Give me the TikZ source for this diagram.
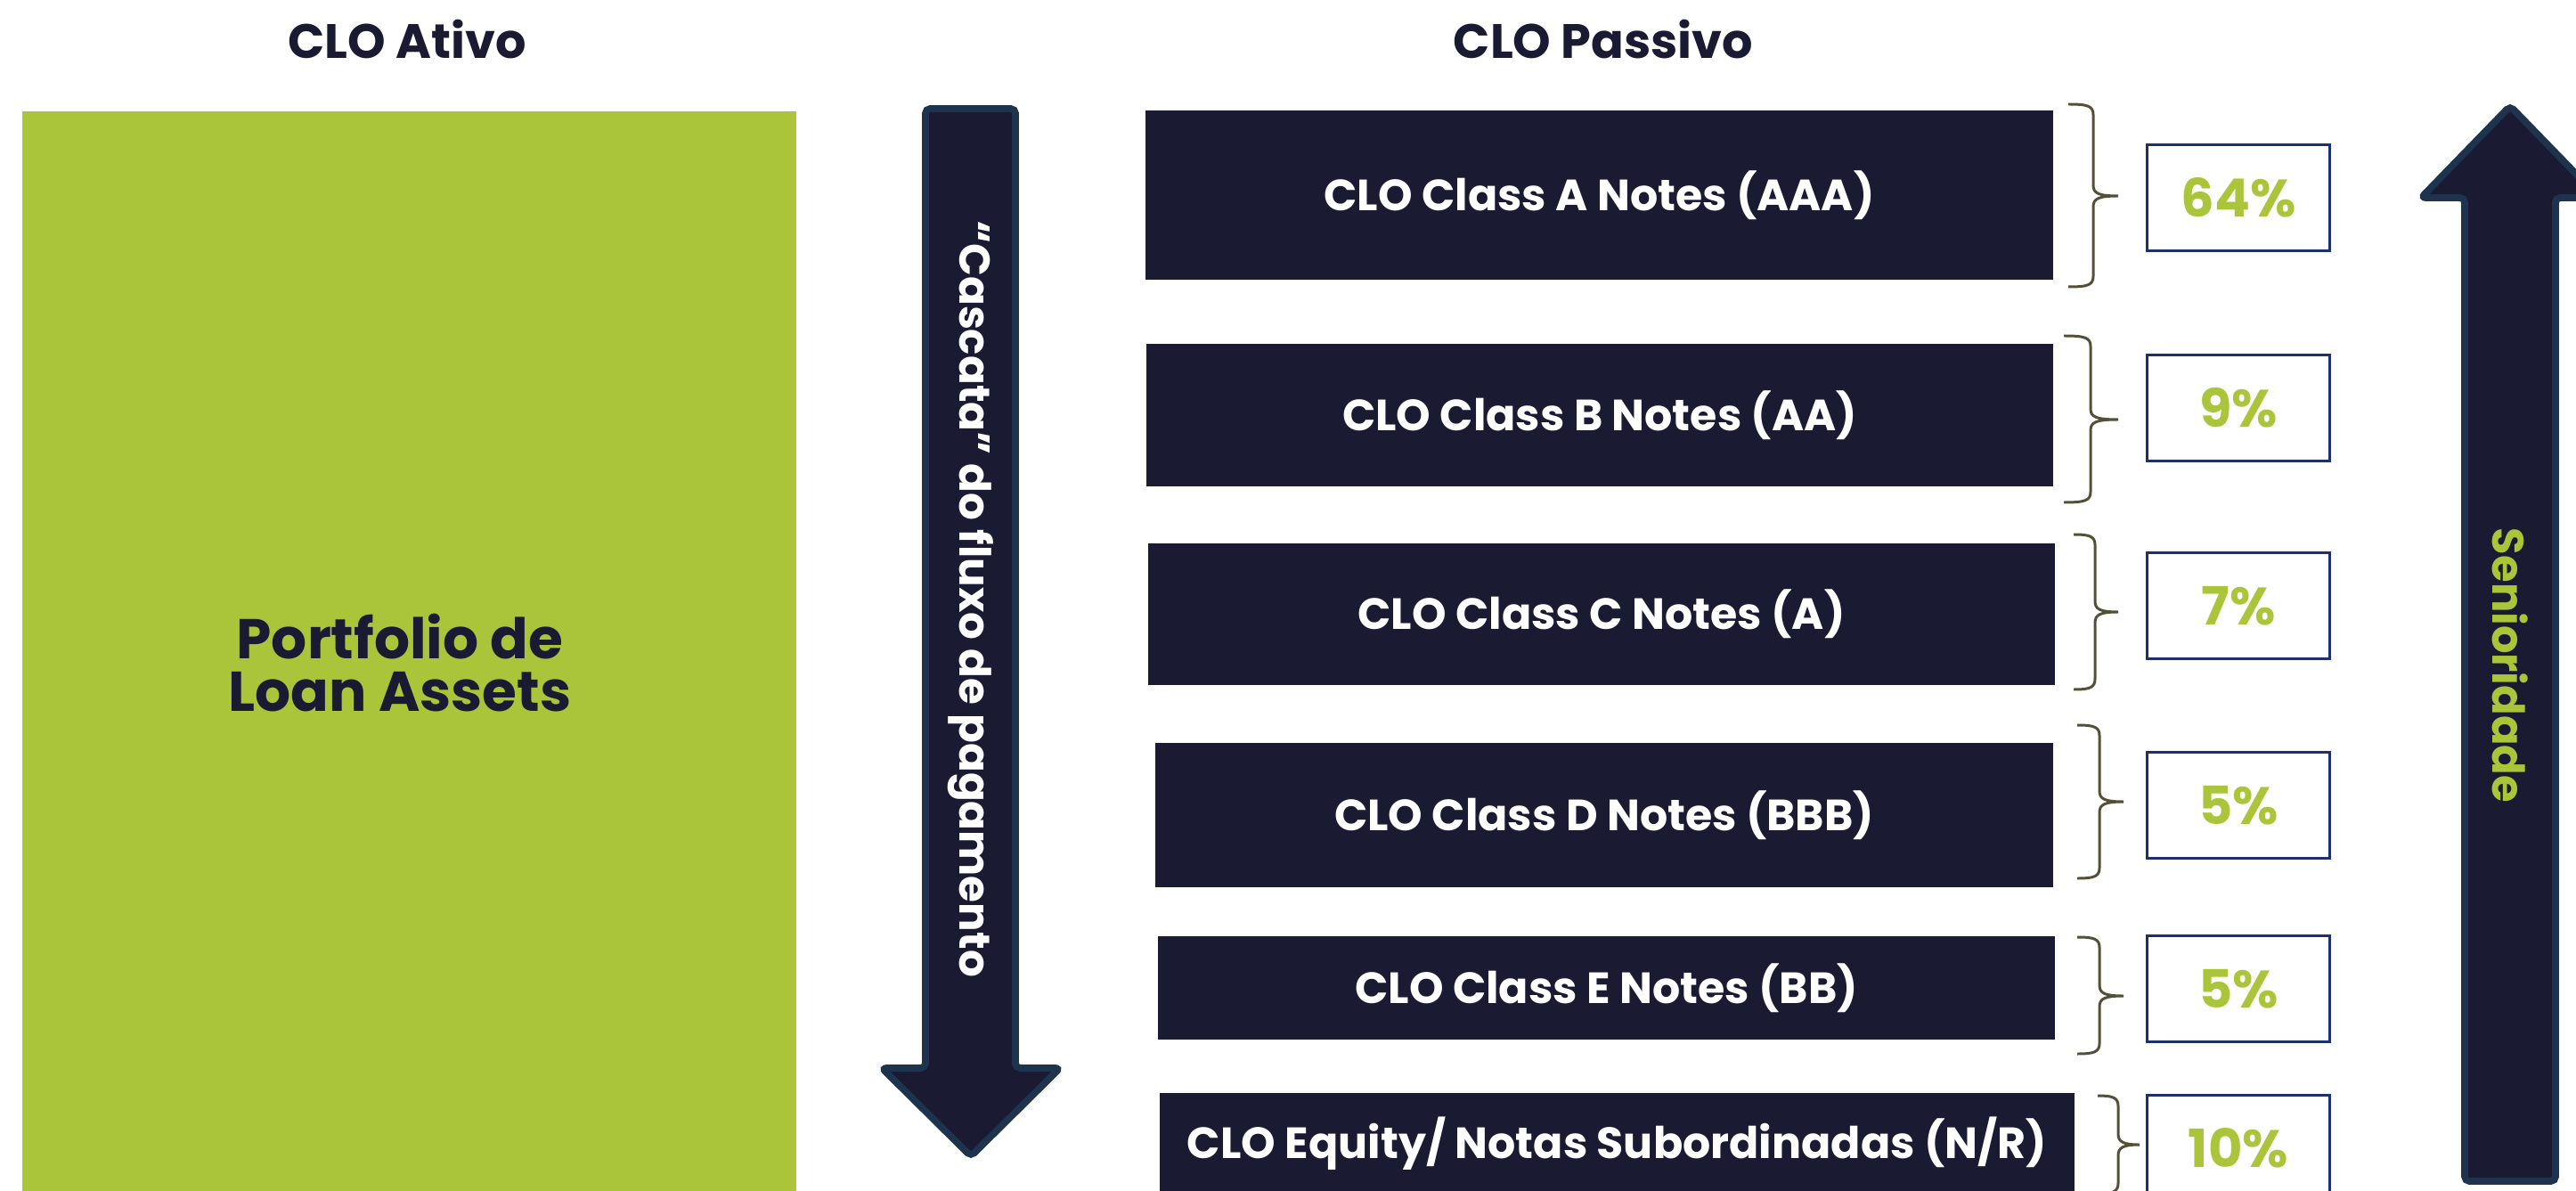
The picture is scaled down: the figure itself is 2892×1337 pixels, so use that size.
\documentclass[tikz,border=0pt]{standalone}
\usepackage{fontspec}
\setmainfont{Poppins}
\definecolor{navy}{RGB}{27,26,51}
\definecolor{cgreen}{RGB}{170,197,58}
\definecolor{pctblue}{RGB}{28,48,110}
\definecolor{braceolive}{RGB}{84,80,56}
\definecolor{arrowedge}{RGB}{30,52,78}
\newcommand\clobrace[6]{% top, bottom, left x, vertical x, tip x, tip y
  \draw[bracestyle] (#3,#1) .. controls (#4-6,#1) and (#4,#1+2) .. (#4,#1+12)
    -- (#4,#6-12) .. controls (#4,#6-3) and (#4+6,#6) .. (#5,#6)
    .. controls (#4+6,#6) and (#4,#6+3) .. (#4,#6+12)
    -- (#4,#2-12) .. controls (#4,#2-2) and (#4-6,#2) .. (#3,#2);}
\begin{document}
\begin{tikzpicture}[x=0.01cm,y=-0.01cm,
  navybox/.style={fill=navy, draw=none, text=white, inner sep=0pt,
    font=\fontsize{13.95pt}{17pt}\selectfont\bfseries},
  pctbox/.style={draw=pctblue, line width=0.9pt, fill=white, text=cgreen, inner sep=0pt,
    minimum width=2.05cm, minimum height=1.19cm,
    font=\fontsize{16.8pt}{20pt}\selectfont\bfseries},
  bracestyle/.style={draw=braceolive, line width=0.85pt},
  bigarrow/.style={fill=navy, draw=arrowedge, line width=2.2pt, rounded corners=1.5pt},
  titletext/.style={text=navy, font=\fontsize{15.4pt}{18pt}\selectfont\bfseries}
]
\useasboundingbox (0,0) rectangle (2892,1337);
\fill[white] (0,0) rectangle (2892,1337);
\clip (0,0) rectangle (2892,1337);

% titles
\node[titletext] (tativo) at (457,44) {CLO Ativo};
\node[titletext] (tpassivo) at (1800,44) {CLO Passivo};

% asset block
\node[fill=cgreen, anchor=north west, minimum width=8.69cm, minimum height=12.3cm, inner sep=0pt] (ativo) at (24,124) {};
\node[text=navy, align=center, font=\fontsize{17.9pt}{16.8pt}\selectfont\bfseries] (portfolio) at (449,744) {Portfolio de\\Loan Assets};

% down arrow
\draw[bigarrow] (1039,122) -- (1140,122) -- (1140,1199) -- (1190,1199) -- (1090,1298)
  -- (990,1199) -- (1039,1199) -- cycle;
\node[rotate=-90, text=white, font=\fontsize{13.75pt}{17pt}\selectfont\bfseries] (cascata) at (1090,672) {“Cascata” do fluxo de pagamento};

% up arrow
\draw[bigarrow] (2767,1326) -- (2767,222) -- (2718,222) -- (2818,119) -- (2918,222)
  -- (2869,222) -- (2869,1326) -- cycle;
\node[rotate=-90, text=cgreen, font=\fontsize{14.1pt}{17pt}\selectfont\bfseries] (senioridade) at (2818,747) {Senioridade};

% liability tranches
\node[navybox, minimum width=10.19cm, minimum height=1.90cm] (classA) at (1795.5,219) {CLO Class A Notes (AAA)};
\node[navybox, minimum width=10.18cm, minimum height=1.60cm] (classB) at (1796,466) {CLO Class B Notes (AA)};
\node[navybox, minimum width=10.18cm, minimum height=1.59cm] (classC) at (1798,689.5) {CLO Class C Notes (A)};
\node[navybox, minimum width=10.08cm, minimum height=1.62cm] (classD) at (1801,915) {CLO Class D Notes (BBB)};
\node[navybox, minimum width=10.07cm, minimum height=1.16cm] (classE) at (1803.5,1109) {CLO Class E Notes (BB)};
\node[navybox, minimum width=10.27cm, minimum height=1.14cm] (equity) at (1815.5,1284) {CLO Equity/ Notas Subordinadas (N/R)};

% braces
\clobrace{117}{322}{2322}{2350}{2378}{220}
\clobrace{377}{564}{2317}{2347}{2378}{471}
\clobrace{600}{774}{2328}{2352}{2378}{687}
\clobrace{814}{986}{2332}{2357}{2384}{900}
\clobrace{1052}{1183}{2332}{2357}{2384}{1118}
\clobrace{1230}{1340}{2355}{2378}{2402}{1285}

% percentages
\node[pctbox] (pA) at (2513,222) {64\%};
\node[pctbox] (pB) at (2513,458) {9\%};
\node[pctbox] (pC) at (2513,680) {7\%};
\node[pctbox] (pD) at (2513,904) {5\%};
\node[pctbox] (pE) at (2513,1110) {5\%};
\node[pctbox] (pF) at (2513,1289) {10\%};
\end{tikzpicture}
\end{document}
